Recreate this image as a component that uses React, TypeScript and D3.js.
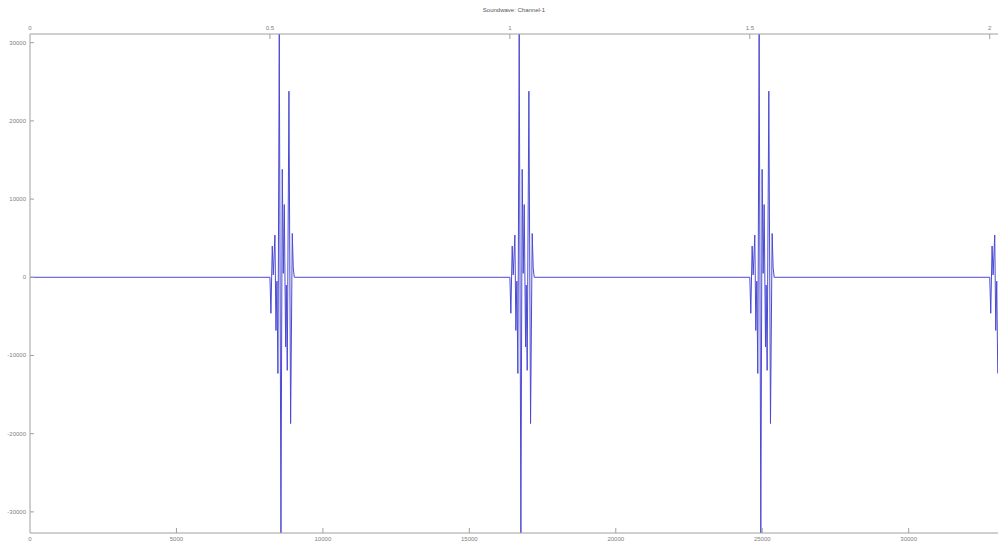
import React from 'react'
import * as d3 from 'd3'

// samples per second of the recording
const sampleRate = 16384
const totalSamples = 33050
const lastSample = 33041

// where each click starts, in samples
const burstStarts = [8192, 16384, 24576, 32768]

// one click: sample offset from its start, and amplitude
const burstOffsets = [0, 34, 80, 114, 171, 205, 239, 273, 319, 376, 421, 456, 490, 536, 558, 592, 649, 706, 763, 797, 832]
const burstValues = [0, -4600, 4000, 300, 5400, -6800, -500, -12300, 31100, -32700, 13800, 500, 9300, -8900, -1000, -11900, 23800, -18700, 5600, 1200, 0]

const sampleTicks = [0, 5000, 10000, 15000, 20000, 25000, 30000]
const timeTicks = [0, 0.5, 1, 1.5, 2]
const ampTicks = [30000, 20000, 10000, 0, -10000, -20000, -30000]

const W = 998
const H = 543
const margin = { left: 30, top: 34, right: 0, bottom: 10 }
const axisColor = '#a0a0a0'
const textColor = '#808080'
const fontFamily = 'Arial, "Liberation Sans", sans-serif'

function buildPoints(): [number, number][] {
    let pts: [number, number][] = [[0, 0]]
    burstStarts.forEach(s => {
        burstOffsets.forEach((o, i) => {
            if (s + o <= lastSample) pts.push([s + o, burstValues[i]])
        })
    })
    return pts
}

export default function App() {
    const x = d3.scaleLinear().domain([0, totalSamples]).range([margin.left, W - margin.right])
    const t = d3.scaleLinear().domain([0, totalSamples / sampleRate]).range([margin.left, W - margin.right])
    const y = d3.scaleLinear().domain([-32700, 31110]).range([H - margin.bottom, margin.top])

    const pts = buildPoints()
    const wave = d3.line<[number, number]>().x(d => x(d[0])).y(d => y(d[1]))(pts)

    const left = margin.left
    const top = margin.top
    const bottom = H - margin.bottom

    return (
        <svg width={W} height={H} style={{ position: 'absolute', left: 0, top: 0, display: 'block', background: 'white' }}>
            <text x={(left + W) / 2} y={12} textAnchor="middle" fontSize={6} fill="#555" fontFamily={fontFamily}>
                Soundwave: Channel-1
            </text>

            <clipPath id="plotClip">
                <rect x={left} y={top} width={W - left} height={bottom - top} />
            </clipPath>
            <path d={wave || ''} stroke="#4a4ad2" strokeWidth={1} fill="none" clipPath="url(#plotClip)" />

            {/* frame */}
            <line x1={left} x2={W} y1={top} y2={top} stroke={axisColor} />
            <line x1={left} x2={W} y1={bottom} y2={bottom} stroke={axisColor} />
            <line x1={left} x2={left} y1={top} y2={bottom} stroke={axisColor} />

            {/* top axis: seconds */}
            {timeTicks.map(v => (
                <g key={'t' + v}>
                    {v !== 0 && <line x1={t(v)} x2={t(v)} y1={top} y2={top + 5} stroke={axisColor} />}
                    <text x={t(v)} y={30} textAnchor="middle" fontSize={6} fill={textColor} fontFamily={fontFamily}>{String(v)}</text>
                </g>
            ))}

            {/* bottom axis: samples */}
            {sampleTicks.map(v => (
                <g key={'s' + v}>
                    {v !== 0 && <line x1={x(v)} x2={x(v)} y1={bottom} y2={bottom - 5} stroke={axisColor} />}
                    <text x={x(v)} y={541} textAnchor="middle" fontSize={6} fill={textColor} fontFamily={fontFamily}>{String(v)}</text>
                </g>
            ))}

            {/* left axis: amplitude */}
            {ampTicks.map(v => (
                <g key={'a' + v}>
                    <line x1={left} x2={left + 4} y1={y(v)} y2={y(v)} stroke={axisColor} />
                    <text x={26} y={y(v) + 2} textAnchor="end" fontSize={6} fill={textColor} fontFamily={fontFamily}>{String(v)}</text>
                </g>
            ))}
        </svg>
    )
}
